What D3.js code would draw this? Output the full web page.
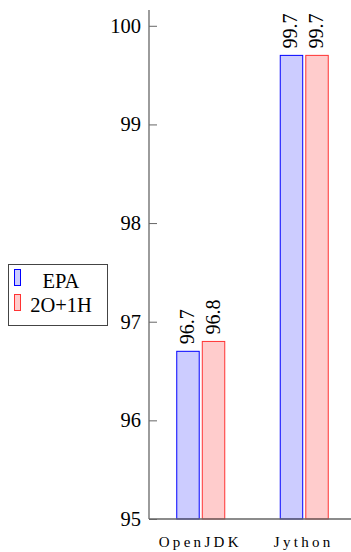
<!DOCTYPE html>
<html>
<head>
<meta charset="utf-8">
<script src="https://cdn.jsdelivr.net/npm/d3@7"></script>
<style>
  body { margin: 0; background: #fff; }
  svg text { fill: #000; }
</style>
</head>
<body>
<div id="app"></div>
<script>
const categories = ['OpenJDK', 'Jython']
const series = ['EPA', '2O+1H']
const epaValues = [96.7, 99.7]
const ohValues = [96.8, 99.7]
const yTicks = [95, 96, 97, 98, 99, 100]

const fills = ['#ccccff', '#ffcccc']
const strokes = ['#0000ff', '#ff3333']
const serifFont = "'Liberation Serif', serif"

const W = 351, H = 552
const axisX = 149, axisY = 519

const svg = d3.select('#app')
  .append('svg')
  .attr('width', W)
  .attr('height', H)

const y = d3.scaleLinear()
  .domain([95, 100.16])
  .range([axisY, 10])

const x = d3.scalePoint()
  .domain(categories)
  .range([axisX, 356])
  .padding(0.5)

const xs = d3.scaleBand()
  .domain(series)
  .range([-24, 24])
  .paddingInner(0.12)

const rows = []
categories.forEach((c, i) => {
  rows.push({ cat: c, s: series[0], v: epaValues[i], k: 0 })
  rows.push({ cat: c, s: series[1], v: ohValues[i], k: 1 })
})

// Bars
svg.selectAll('.bar')
  .data(rows)
  .join('rect')
  .attr('class', 'bar')
  .attr('x', d => x(d.cat) + xs(d.s))
  .attr('y', d => y(d.v))
  .attr('width', xs.bandwidth())
  .attr('height', d => axisY - y(d.v))
  .attr('fill', d => fills[d.k])
  .attr('stroke', d => strokes[d.k])
  .attr('stroke-width', 1)

// Value labels
svg.selectAll('.val-label')
  .data(rows)
  .join('text')
  .attr('class', 'val-label')
  .attr('font-family', serifFont)
  .attr('font-size', 20)
  .attr('transform', d => `translate(${x(d.cat) + xs(d.s) + xs.bandwidth() / 2},${y(d.v) - 7}) rotate(-90)`)
  .attr('dy', '0.3em')
  .attr('text-anchor', 'start')
  .text(d => d.v.toFixed(1))

// Y axis
const yAxis = svg.append('g')
  .attr('transform', `translate(${axisX},0)`)
  .call(d3.axisLeft(y).tickValues(yTicks).tickSize(-8).tickPadding(8).tickFormat(d3.format('d')))
  .attr('font-family', serifFont)
  .attr('font-size', 20.5)
yAxis.select('.domain').attr('stroke', '#666').attr('stroke-width', 1.3)
  .attr('d', `M0,${axisY}V10`)
yAxis.selectAll('.tick line').attr('stroke', '#666').attr('stroke-width', 1)

// X axis
const xAxis = svg.append('g')
  .attr('transform', `translate(0,${axisY})`)
  .call(d3.axisBottom(x).tickSize(0).tickPadding(17))
  .attr('font-family', serifFont)
  .attr('font-size', 15)
xAxis.select('.domain').attr('stroke', '#666').attr('stroke-width', 1.3)
  .attr('d', `M${axisX},0H${W}`)
xAxis.selectAll('.tick text').attr('dx', -1).style('letter-spacing', '3.3px')

// Legend
const legend = svg.append('g')
  .attr('font-family', serifFont)
  .attr('font-size', 20.5)
legend.append('rect')
  .attr('x', 8.5).attr('y', 264.5)
  .attr('width', 99).attr('height', 61)
  .attr('fill', '#fff').attr('stroke', '#444').attr('stroke-width', 1)
series.forEach((s, i) => {
  legend.append('rect')
    .attr('x', 14.5).attr('y', 269.5 + i * 25)
    .attr('width', 6).attr('height', 16)
    .attr('fill', fills[i]).attr('stroke', strokes[i]).attr('stroke-width', 1)
  legend.append('text')
    .attr('x', 61).attr('y', 288 + i * 24)
    .attr('text-anchor', 'middle')
    .text(s)
})
</script>
</body>
</html>
